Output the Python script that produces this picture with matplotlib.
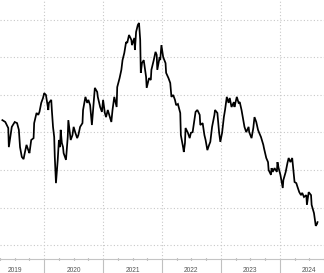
import matplotlib
matplotlib.use("Agg")
import matplotlib.pyplot as plt
import matplotlib.transforms as mtransforms
import numpy as np

# decimal-year dates and series values
dates = [
    2019.29, 2019.34, 2019.39, 2019.40, 2019.45, 2019.50, 2019.54, 2019.57, 2019.59, 2019.62,
    2019.65, 2019.67, 2019.70, 2019.73, 2019.75, 2019.78, 2019.82, 2019.83, 2019.87, 2019.90,
    2019.92, 2019.95, 2019.98, 2020.00, 2020.03, 2020.07, 2020.08, 2020.12, 2020.13, 2020.15,
    2020.17, 2020.18, 2020.20, 2020.23, 2020.25, 2020.27, 2020.28, 2020.30, 2020.32, 2020.33,
    2020.37, 2020.40, 2020.41, 2020.45, 2020.48, 2020.50, 2020.53, 2020.56, 2020.58, 2020.61,
    2020.65, 2020.66, 2020.70, 2020.73, 2020.75, 2020.78, 2020.81, 2020.83, 2020.86, 2020.90,
    2020.91, 2020.95, 2020.98, 2021.00, 2021.03, 2021.05, 2021.08, 2021.14, 2021.16, 2021.19,
    2021.23, 2021.24, 2021.28, 2021.31, 2021.33, 2021.36, 2021.39, 2021.41, 2021.44, 2021.48,
    2021.49, 2021.53, 2021.54, 2021.56, 2021.59, 2021.61, 2021.63, 2021.64, 2021.66, 2021.69,
    2021.73, 2021.74, 2021.78, 2021.81, 2021.82, 2021.86, 2021.89, 2021.91, 2021.92, 2021.96,
    2021.97, 2021.99, 2022.02, 2022.06, 2022.07, 2022.11, 2022.14, 2022.16, 2022.19, 2022.22,
    2022.24, 2022.27, 2022.31, 2022.32, 2022.36, 2022.37, 2022.39, 2022.40, 2022.44, 2022.47,
    2022.49, 2022.52, 2022.55, 2022.57, 2022.60, 2022.64, 2022.65, 2022.69, 2022.72, 2022.74,
    2022.77, 2022.80, 2022.82, 2022.85, 2022.89, 2022.90, 2022.94, 2022.97, 2022.99, 2023.02,
    2023.05, 2023.07, 2023.10, 2023.13, 2023.15, 2023.18, 2023.22, 2023.23, 2023.27, 2023.30,
    2023.32, 2023.35, 2023.38, 2023.40, 2023.43, 2023.47, 2023.48, 2023.52, 2023.55, 2023.57,
    2023.60, 2023.63, 2023.65, 2023.68, 2023.72, 2023.73, 2023.77, 2023.80, 2023.81, 2023.85,
    2023.86, 2023.88, 2023.91, 2023.95, 2023.96, 2023.98, 2024.01, 2024.05, 2024.06, 2024.10,
    2024.13, 2024.15, 2024.18, 2024.21, 2024.23, 2024.25, 2024.28, 2024.30, 2024.33, 2024.36,
    2024.38, 2024.41, 2024.45, 2024.46, 2024.49, 2024.53, 2024.54, 2024.58, 2024.61, 2024.63,
    2024.64,
]
values = [
    3.33, 3.28, 3.12, 2.61, 3.15, 3.28, 3.25, 3.07, 2.61, 2.35,
    2.29, 2.45, 2.67, 2.53, 2.45, 2.80, 2.85, 3.25, 3.52, 3.47,
    3.55, 3.79, 3.92, 4.05, 4.00, 3.60, 3.79, 3.87, 3.60, 3.15,
    2.88, 2.35, 1.65, 2.27, 2.80, 2.61, 3.07, 2.72, 2.61, 2.45,
    2.27, 2.88, 3.33, 2.80, 2.93, 3.15, 2.99, 2.85, 2.93, 3.15,
    3.25, 3.60, 3.95, 3.79, 3.87, 3.73, 3.20, 3.60, 4.19, 4.08,
    3.95, 3.68, 3.55, 3.87, 3.52, 3.41, 3.60, 3.28, 3.60, 3.95,
    3.68, 4.21, 4.45, 4.67, 4.93, 5.12, 5.41, 5.39, 5.60, 5.47,
    5.33, 5.52, 5.20, 5.68, 5.87, 5.92, 5.47, 4.59, 4.85, 4.93,
    4.48, 4.19, 4.45, 4.40, 4.67, 4.93, 5.15, 5.07, 4.67, 5.01,
    4.93, 5.33, 5.01, 4.85, 4.59, 4.45, 4.32, 3.95, 4.00, 3.87,
    3.73, 3.76, 3.52, 2.93, 2.59, 2.48, 2.72, 3.12, 2.99, 2.85,
    2.99, 3.01, 3.33, 3.55, 3.60, 3.47, 3.20, 3.25, 2.93, 2.80,
    2.53, 2.67, 2.75, 3.15, 3.47, 3.60, 3.52, 2.99, 2.75, 2.99,
    3.41, 3.60, 3.95, 3.79, 3.92, 3.68, 3.81, 3.68, 3.95, 3.79,
    3.81, 3.60, 3.33, 3.15, 3.01, 3.15, 3.01, 2.85, 3.12, 3.41,
    3.28, 3.07, 2.99, 2.88, 2.67, 2.59, 2.32, 2.21, 2.00, 1.87,
    2.05, 1.95, 2.05, 1.95, 2.21, 2.05, 1.87, 1.52, 1.73, 1.95,
    2.19, 2.32, 2.21, 2.32, 2.00, 1.68, 1.65, 1.55, 1.41, 1.33,
    1.39, 1.28, 1.33, 1.07, 1.41, 1.33, 1.07, 0.85, 0.51, 0.56,
    0.61,
]
years = [2019, 2020, 2021, 2022, 2023, 2024]
year_labels = ["2019", "2020", "2021", "2022", "2023", "2024"]
grid_levels = [0, 1, 2, 3, 4, 5, 6]

fig = plt.figure(figsize=(3.24, 2.73), dpi=100)
ax = fig.add_axes([0, 0.0513, 1, 0.9487])

ax.plot(dates, values, color="black", linewidth=1.25, solid_joinstyle="miter")

ax.set_xlim(2019.287, 2024.66)
ax.set_ylim(-0.373, 6.533)

# grid
ax.set_yticks(grid_levels)
ax.set_xticks(years[1:])
ax.set_xticks([y + q for y in years for q in (0.25, 0.5, 0.75)], minor=True)
ax.grid(True, which="major", color="#c8c8c8", linestyle=(0, (1, 2)), linewidth=0.8)

for name, s in ax.spines.items():
    s.set_visible(name == "bottom")
ax.spines["bottom"].set_color("#c4c4c4")
ax.spines["bottom"].set_linewidth(0.8)

ax.tick_params(axis="y", left=False, labelleft=False)
ax.tick_params(axis="x", which="major", direction="out", length=11, width=0.8,
               color="#c0c0c0", labelbottom=False)
ax.tick_params(axis="x", which="minor", direction="inout", length=2, width=0.8,
               color="#888888", labelbottom=False)

trans = mtransforms.blended_transform_factory(ax.transData, ax.transAxes)
for y, lab in zip(years, year_labels):
    ax.text(y + 0.5, -0.043, lab, transform=trans, ha="center", va="center",
            fontsize=4.8, color="#555555", family="Liberation Sans", clip_on=False)

fig.savefig("out.png", dpi=100)
